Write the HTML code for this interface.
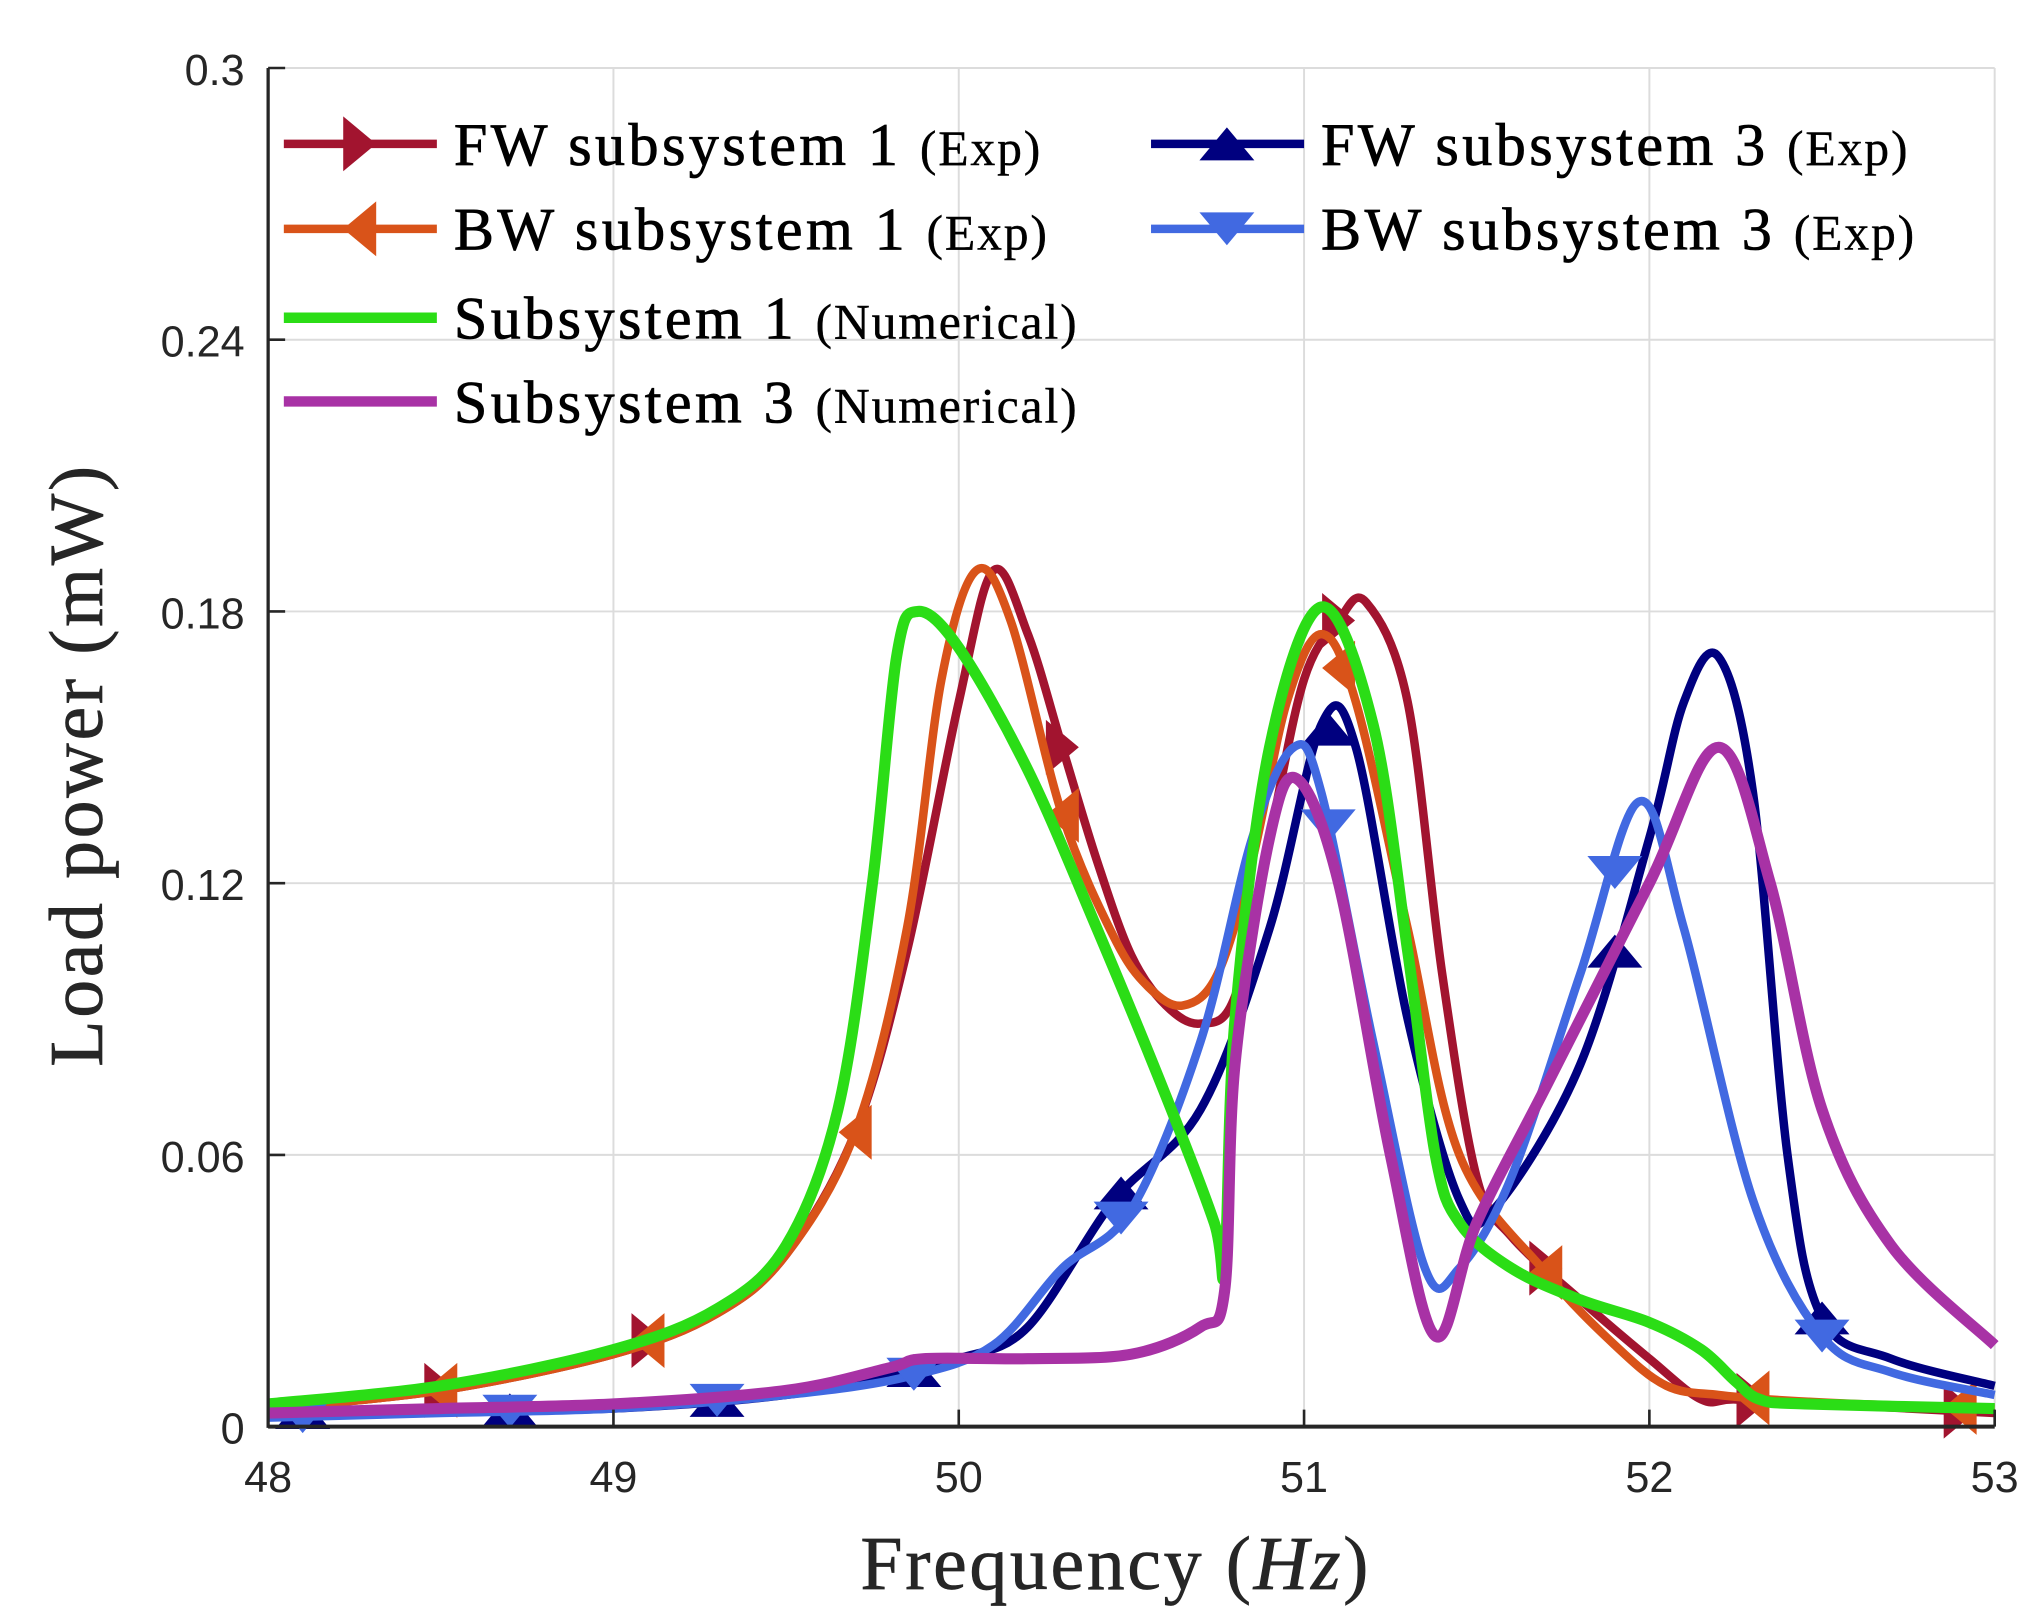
<!DOCTYPE html>
<html><head><meta charset="utf-8"><style>
html,body{margin:0;padding:0;background:#fff;}
svg{display:block;}
.tick{font-family:"Liberation Sans",sans-serif;font-size:33px;fill:#262626;}
.lg{font-family:"Liberation Serif",serif;font-size:46px;fill:#000;letter-spacing:2.6px;stroke:#000;stroke-width:0.6px;}
.lgs{font-family:"Liberation Serif",serif;font-size:38px;fill:#000;letter-spacing:1.4px;stroke-width:0.3px;}
.ax{font-family:"Liberation Serif",serif;font-size:58px;fill:#262626;letter-spacing:2px;stroke:#262626;stroke-width:0.5px;}
</style></head><body>
<svg id="chart" width="2030" height="1611" viewBox="0 0 1552 1232" preserveAspectRatio="none" xmlns="http://www.w3.org/2000/svg">
<rect width="1552" height="1232" fill="#fff"/>
<g id="grid"></g>
<g id="series"></g>
<g id="axes"></g>
<text class="ax" x="853" y="1215" text-anchor="middle">Frequency (<tspan font-style="italic">Hz</tspan>)</text>
<text class="ax" transform="translate(78,585) rotate(-90)" text-anchor="middle">Load power (mW)</text>
<g id="legend"></g>
</svg>
<script>
const xTicks=[48,49,50,51,52,53];
const yTicks=[0,0.06,0.12,0.18,0.24,0.3];
const yTickLabels=["0","0.06","0.12","0.18","0.24","0.3"];
const fw1F=[48,48.5,49,49.3,49.5,49.7,49.85,50,50.1,50.2,50.3,50.4,50.5,50.6,50.7,50.8,50.9,51,51.1,51.18,51.3,51.4,51.5,51.6,51.8,52,52.15,52.25,52.5,53];
const fw1V=[0.004,0.008,0.016,0.025,0.038,0.065,0.105,0.16,0.189,0.175,0.15,0.125,0.104,0.093,0.089,0.095,0.13,0.165,0.178,0.182,0.16,0.1,0.055,0.042,0.028,0.015,0.006,0.006,0.005,0.003];
const fw1M=[48.5,49.1,50.3,51.1,51.7,52.3,52.9];
const bw1F=[48,48.5,49,49.3,49.5,49.7,49.85,49.95,50.05,50.15,50.3,50.45,50.55,50.65,50.75,50.85,50.95,51.05,51.15,51.3,51.45,51.7,51.9,52.05,52.2,52.35,52.6,53];
const bw1V=[0.004,0.008,0.016,0.025,0.038,0.065,0.11,0.165,0.189,0.178,0.135,0.108,0.097,0.093,0.1,0.125,0.16,0.175,0.16,0.11,0.06,0.034,0.018,0.009,0.007,0.006,0.005,0.004];
const bw1M=[48.5,49.1,49.7,50.3,51.1,51.7,52.3,52.9];
const n1F=[48,48.5,49,49.3,49.5,49.65,49.75,49.82,49.88,50,50.2,50.4,50.6,50.74,50.77,50.8,50.9,51.05,51.2,51.3,51.38,51.45,51.6,51.8,52,52.15,52.25,52.32,52.45,53];
const n1V=[0.005,0.009,0.017,0.026,0.04,0.07,0.12,0.17,0.18,0.172,0.145,0.11,0.073,0.045,0.035,0.09,0.15,0.181,0.155,0.105,0.06,0.045,0.035,0.028,0.023,0.017,0.01,0.006,0.005,0.004];
const fw3F=[48,48.5,49,49.5,49.85,50,50.2,50.45,50.7,50.9,51.05,51.15,51.3,51.45,51.55,51.8,52,52.1,52.2,52.3,52.4,52.5,52.7,53];
const fw3V=[0.003,0.0035,0.004,0.007,0.012,0.015,0.022,0.05,0.07,0.11,0.155,0.15,0.09,0.05,0.048,0.08,0.13,0.16,0.17,0.14,0.06,0.024,0.015,0.009];
const fw3M=[48.1,48.7,49.3,49.87,50.47,51.07,51.9,52.5];
const bw3F=[48,48.5,49,49.5,49.85,50.1,50.3,50.5,50.7,50.85,50.97,51.05,51.2,51.35,51.45,51.6,51.8,51.97,52.1,52.3,52.5,52.7,53];
const bw3V=[0.002,0.003,0.004,0.007,0.011,0.018,0.035,0.048,0.085,0.13,0.15,0.14,0.085,0.035,0.035,0.055,0.1,0.138,0.11,0.05,0.02,0.012,0.007];
const bw3M=[48.1,48.7,49.3,49.87,50.47,51.07,51.9,52.5];
const n3F=[48,48.5,49,49.5,49.8,49.9,50.2,50.5,50.7,50.77,50.8,50.9,50.98,51.1,51.25,51.38,51.5,51.7,52,52.2,52.35,52.5,52.7,53];
const n3V=[0.003,0.004,0.005,0.008,0.013,0.015,0.015,0.016,0.022,0.03,0.08,0.13,0.143,0.12,0.06,0.02,0.045,0.075,0.12,0.15,0.12,0.07,0.04,0.018];

const L=205,R=1525,T=52,B=1091;
const sx=f=>L+(f-48)/5*(R-L);
const sy=v=>B-v/0.3*(B-T);
const NS="http://www.w3.org/2000/svg";
function mk(tag,attrs,parent){const e=document.createElementNS(NS,tag);for(const k in attrs)e.setAttribute(k,attrs[k]);parent.appendChild(e);return e;}
function interp(F,V,f){for(let i=0;i<F.length-1;i++){if(f>=F[i]&&f<=F[i+1]){const t=(f-F[i])/(F[i+1]-F[i]);return V[i]+t*(V[i+1]-V[i]);}}return V[V.length-1];}
function pathD(F,V){const p=F.map((f,i)=>[sx(f),sy(V[i])]);let d="M"+p[0][0]+","+p[0][1];
for(let i=0;i<p.length-1;i++){const p0=p[Math.max(i-1,0)],p1=p[i],p2=p[i+1],p3=p[Math.min(i+2,p.length-1)];
const c1=[p1[0]+(p2[0]-p0[0])/6,p1[1]+(p2[1]-p0[1])/6],c2=[p2[0]-(p3[0]-p1[0])/6,p2[1]-(p3[1]-p1[1])/6];
d+=` C${c1[0]},${c1[1]} ${c2[0]},${c2[1]} ${p2[0]},${p2[1]}`;}return d;}
function tri(x,y,dir,s){const h=s;if(dir==="r")return `${x-h*0.6},${y-h} ${x+h*0.6},${y} ${x-h*0.6},${y+h}`;
if(dir==="l")return `${x+h*0.6},${y-h} ${x-h*0.6},${y} ${x+h*0.6},${y+h}`;
if(dir==="u")return `${x-h},${y+h*0.6} ${x},${y-h*0.6} ${x+h},${y+h*0.6}`;
return `${x-h},${y-h*0.6} ${x},${y+h*0.6} ${x+h},${y-h*0.6}`;}
const grid=document.getElementById('grid');
xTicks.forEach(t=>{const l=mk('line',{x1:sx(t),x2:sx(t),y1:T,y2:B,stroke:'#dcdcdc','stroke-width':1.5},grid);

});
yTicks.forEach(t=>{const l=mk('line',{x1:L,x2:R,y1:sy(t),y2:sy(t),stroke:'#dcdcdc','stroke-width':1.5},grid);

});
const series=[
{name:'fw-subsystem-1',F:fw1F,V:fw1V,M:fw1M,c:'#A2142F',w:6.5,d:'r'},
{name:'bw-subsystem-1',F:bw1F,V:bw1V,M:bw1M,c:'#D95319',w:6.5,d:'l'},
{name:'fw-subsystem-3',F:fw3F,V:fw3V,M:fw3M,c:'#00007F',w:6.5,d:'u'},
{name:'bw-subsystem-3',F:bw3F,V:bw3V,M:bw3M,c:'#4169E1',w:6.5,d:'d'},
{name:'subsystem-1-numerical',F:n1F,V:n1V,M:[],c:'#2BDD16',w:8.5,d:''},
{name:'subsystem-3-numerical',F:n3F,V:n3V,M:[],c:'#A832A5',w:8.5,d:''}];
const sg=document.getElementById('series');
series.forEach(s=>{const g=mk('g',{},sg);


const p=mk('path',{d:pathD(s.F,s.V),fill:'none',stroke:s.c,'stroke-width':s.w,'stroke-linejoin':'round'},g);


s.M.forEach(f=>{const m=mk('polygon',{points:tri(sx(f),sy(interp(s.F,s.V,f)),s.d,21),fill:s.c},g);

});});
const ax=document.getElementById('axes');
mk('line',{x1:L,x2:L,y1:T,y2:B+1,stroke:'#262626','stroke-width':2.5},ax);
mk('line',{x1:L,x2:R,y1:B,y2:B,stroke:'#262626','stroke-width':3},ax);
xTicks.forEach(t=>{mk('line',{x1:sx(t),x2:sx(t),y1:B,y2:B-13,stroke:'#262626','stroke-width':2},ax);
const tx=mk('text',{x:sx(t),y:B+50,'text-anchor':'middle',class:'tick'},ax);tx.textContent=t;

});
yTicks.forEach((t,i)=>{mk('line',{x1:L,x2:L+13,y1:sy(t),y2:sy(t),stroke:'#262626','stroke-width':2},ax);
const tx=mk('text',{x:L-18,y:sy(t)+13,'text-anchor':'end',class:'tick'},ax);tx.textContent=yTickLabels[i];

});
const lg=document.getElementById('legend');
const entries=[
{x:217,y:110,c:'#A2142F',d:'r',t:'FW subsystem 1',s:'(Exp)',w:6.5},
{x:217,y:175,c:'#D95319',d:'l',t:'BW subsystem 1',s:'(Exp)',w:6.5},
{x:217,y:243,c:'#2BDD16',d:'',t:'Subsystem 1',s:'(Numerical)',w:8},
{x:217,y:307,c:'#A832A5',d:'',t:'Subsystem 3',s:'(Numerical)',w:8},
{x:880,y:110,c:'#00007F',d:'u',t:'FW subsystem 3',s:'(Exp)',w:6.5},
{x:880,y:175,c:'#4169E1',d:'d',t:'BW subsystem 3',s:'(Exp)',w:6.5}];
entries.forEach(e=>{const g=mk('g',{},lg);


mk('line',{x1:e.x,x2:e.x+117,y1:e.y,y2:e.y,stroke:e.c,'stroke-width':e.w},g);
if(e.d)mk('polygon',{points:tri(e.x+58,e.y,e.d,21),fill:e.c},g);
const t=mk('text',{x:e.x+130,y:e.y+16,class:'lg'},g);t.textContent=e.t+' ';
const ts=mk('tspan',{class:'lgs'},t);ts.textContent=e.s;});
</script>
</body></html>
